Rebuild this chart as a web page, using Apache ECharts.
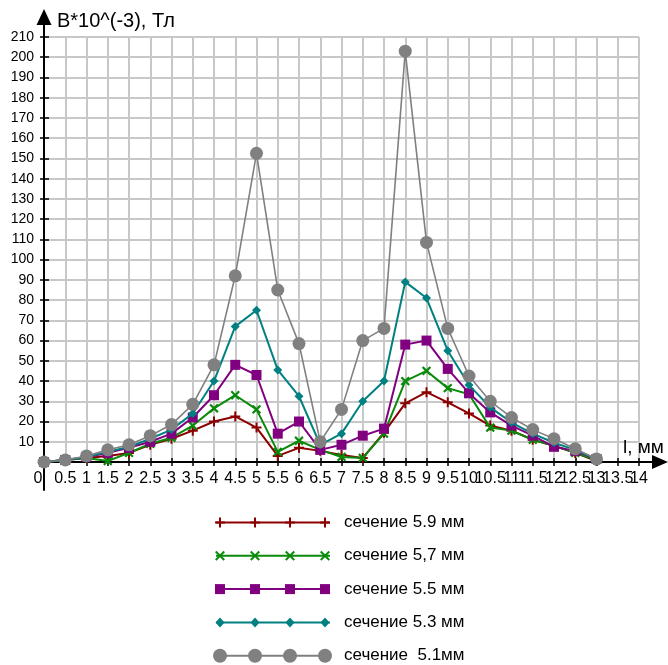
<!DOCTYPE html>
<html>
<head>
<meta charset="utf-8">
<script src="https://cdn.jsdelivr.net/npm/echarts@6/dist/echarts.min.js"></script>
<style>
html,body{margin:0;padding:0;background:#fff;}
#chart{width:668px;height:665px;}
</style>
</head>
<body>
<div id="chart"></div>
<script>
// ---- data ----
var xValues = [0,0.5,1,1.5,2,2.5,3,3.5,4,4.5,5,5.5,6,6.5,7,7.5,8,8.5,9,9.5,10,10.5,11,11.5,12,12.5,13];
var s59 = [0,1,2,3,4.5,8.5,11.5,15.5,20,22.5,17,3,7,5.5,3.5,2,14.5,29,34.5,29.5,24,18,15.5,11,8,4.5,0.5];
var s57 = [0,1,2,0.5,4.5,9,12,18,26.5,33,26,5,10.5,6,2.5,2,14,40,45,36.5,33.5,17,15.5,11,8,4.5,1];
var s55 = [0,1,2.5,4.5,7,10,14,22,33,48,43,14,20,6,8.5,13,16.5,58,60,46,34,24.5,18,13,7.5,5.5,1.5];
var s53 = [0,1,2.5,5,7.5,11.5,16,24,40,67,75,45.5,32.5,8.5,14,30,40,89,81,55,38,27,19.5,14,9.5,6,1.5];
var s51 = [0,1,3,6,8.5,13,18.5,28.5,48,92,152.5,85,58.5,10,26,60,66,203,108.5,66,42.5,30,22,16,11.5,6.5,1.5];
var seriesNames = ['сечение 5.9 мм','сечение 5,7 мм','сечение 5.5 мм','сечение 5.3 мм','сечение  5.1мм'];
var seriesData = [s59, s57, s55, s53, s51];
var yTitle = 'B*10^(-3), Тл';
var xTitle = 'l, мм';
var xMax = 14;

// ---- styles ----
var colors = ['#8b0000','#0a8a0a','#800080','#008080','#808080'];
var plusPath = 'path://M4,0H6V4H10V6H6V10H4V6H0V4H4Z';
var symbols = [plusPath, plusPath, 'rect', 'diamond', 'circle'];
var symbolSizes = [10, 11, 10, 9, 13];
var symbolRotates = [0, 45, 0, 0, 0];
var lineWidths = [2, 2, 2, 2, 1.6];

function pairs(arr){ return arr.map(function(v,i){ return [xValues[i], v]; }); }

var series = seriesData.map(function(d, i){
  return {
    name: seriesNames[i], type: 'line', xAxisIndex: 0, yAxisIndex: 0,
    data: pairs(d), symbol: symbols[i], symbolSize: symbolSizes[i], symbolRotate: symbolRotates[i],
    showAllSymbol: true,
    lineStyle: {color: colors[i], width: lineWidths[i]},
    itemStyle: {color: colors[i], borderWidth: 0},
    emphasis: {disabled: true}, animation: false, z: 10 + i
  };
});

// ---- legend drawn with graphics ----
var graphics = [];
var legX0 = 216, legX1 = 330, legMarks = [220, 255, 290, 325], legY0 = 522.5, legDy = 33.3;
seriesNames.forEach(function(name, i){
  var y = legY0 + i * legDy;
  graphics.push({type:'line', shape:{x1:legX0, y1:y, x2:legX1, y2:y}, style:{stroke:colors[i], lineWidth:2}});
  legMarks.forEach(function(mx){
    if (i === 0 || i === 1) {
      var h = i === 1 ? 6 : 5;
      graphics.push({type:'group', x:mx, y:y, rotation: i === 1 ? Math.PI/4 : 0, children:[
        {type:'rect', shape:{x:-h, y:-1, width:2*h, height:2}, style:{fill:colors[i]}},
        {type:'rect', shape:{x:-1, y:-h, width:2, height:2*h}, style:{fill:colors[i]}}
      ]});
    } else if (i === 2) {
      graphics.push({type:'rect', shape:{x:mx-5, y:y-5, width:10, height:10}, style:{fill:colors[i]}});
    } else if (i === 3) {
      graphics.push({type:'polygon', shape:{points:[[mx,y-5],[mx+4.5,y],[mx,y+5],[mx-4.5,y]]}, style:{fill:colors[i]}});
    } else {
      graphics.push({type:'circle', shape:{cx:mx, cy:y, r:7}, style:{fill:colors[i]}});
    }
  });
  graphics.push({type:'text', x:344, y:y, style:{text:name, fill:'#000', font:'17px "Liberation Sans", Arial, sans-serif', verticalAlign:'middle', textAlign:'left'}});
});
graphics.push({type:'text', z:100, x:57, y:21, style:{text:yTitle, fill:'#000', font:'20px "Liberation Sans", Arial, sans-serif', verticalAlign:'middle'}});
graphics.push({type:'text', z:100, x:623, y:448, style:{text:xTitle, fill:'#000', font:'19px "Liberation Sans", Arial, sans-serif', verticalAlign:'middle'}});

var labelFont = '"Liberation Sans", Arial, sans-serif';

var option = {
  backgroundColor: '#fff',
  animation: false,
  grid: [
    {left:44, right:29, top:37, bottom:203},
    {left:44, right:29, top:17, bottom:175},
    {left:44, right:8, top:37, bottom:203}
  ],
  xAxis: [
    {gridIndex:0, type:'value', position:'bottom', min:0, max:xMax, interval:0.5,
      axisLine:{show:true, onZero:false, lineStyle:{color:'#000', width:2}},
      axisTick:{show:true, length:4, lineStyle:{color:'#000', width:1.5}},
      axisLabel:{color:'#000', fontSize:16, fontFamily:labelFont, margin:9,
        showMinLabel:true, showMaxLabel:true, hideOverlap:false,
        formatter:function(v){ return v === 0 ? '{z|0}' : (v === xMax ? '' : String(v)); },
        rich:{z:{fontSize:16, fontFamily:labelFont, color:'#000', padding:[0,12,10,0]}}},
      splitLine:{show:true, lineStyle:{color:'#c8c8c8', width:2}}},
    {gridIndex:0, type:'value', position:'bottom', offset:0, min:0, max:xMax, interval:0.5,
      axisLine:{show:false, onZero:false}, splitLine:{show:false},
      axisLabel:{show:true, color:'#000', fontSize:16, fontFamily:labelFont, margin:9,
        showMinLabel:true, showMaxLabel:true, hideOverlap:false,
        formatter:function(v){ return v === xMax ? String(v) : ''; }},
      axisTick:{show:true, inside:true, length:4, lineStyle:{color:'#000', width:1.5}}},
    {gridIndex:1, type:'value', show:false, min:0, max:14},
    {gridIndex:2, type:'value', min:0, max:1, axisLabel:{show:false}, axisTick:{show:false}, splitLine:{show:false},
      axisLine:{show:true, onZero:false, symbol:['none','triangle'], symbolSize:[14,16], lineStyle:{color:'#000', width:2}}}
  ],
  yAxis: [
    {gridIndex:0, type:'value', position:'left', min:0, max:210, interval:10,
      axisLine:{show:true, onZero:false, lineStyle:{color:'#000', width:2}},
      axisTick:{show:true, length:4, lineStyle:{color:'#000', width:1.5}},
      axisLabel:{color:'#000', fontSize:14, fontFamily:labelFont, margin:10, showMaxLabel:true, hideOverlap:false,
        formatter:function(v){ return v === 0 ? '' : String(v); }},
      splitLine:{show:true, lineStyle:{color:'#c8c8c8', width:2}}},
    {gridIndex:0, type:'value', position:'left', offset:0, min:0, max:210, interval:10,
      axisLine:{show:false, onZero:false}, axisLabel:{show:false}, splitLine:{show:false},
      axisTick:{show:true, inside:true, length:5, lineStyle:{color:'#000', width:1.5}}},
    {gridIndex:1, type:'value', min:0, max:1, axisLabel:{show:false}, axisTick:{show:false}, splitLine:{show:false},
      axisLine:{show:true, onZero:false, symbol:['none','triangle'], symbolSize:[15,16], lineStyle:{color:'#000', width:2}}},
    {gridIndex:2, type:'value', show:false, min:0, max:1}
  ],
  graphic: graphics,
  series: series
};

var chart = echarts.init(document.getElementById('chart'), null, {renderer:'canvas'});
chart.setOption(option);
</script>
</body>
</html>
